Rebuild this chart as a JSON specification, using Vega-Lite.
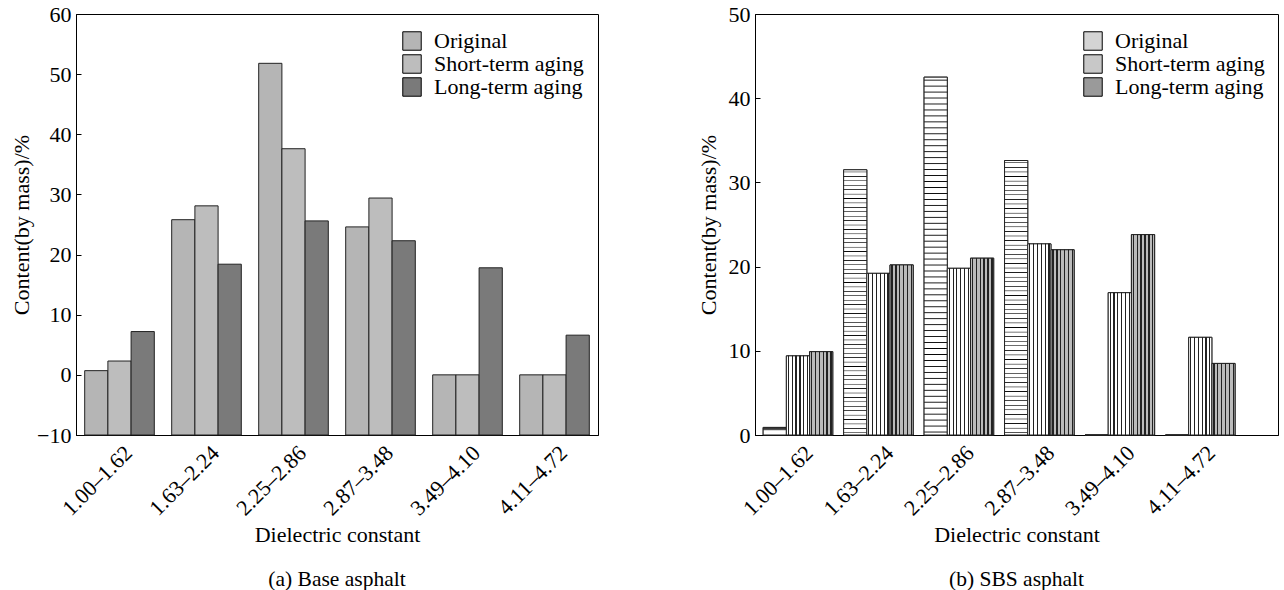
{
  "$schema": "https://vega.github.io/schema/vega-lite/v6.json",
  "padding": {"left": 10, "top": 2, "right": 0, "bottom": 0},
  "background": "white",
  "data": {"values": [
    {"chart": "a", "range": "1.00–1.62", "series": "Original", "value": 0.7},
    {"chart": "a", "range": "1.00–1.62", "series": "Short-term aging", "value": 2.3},
    {"chart": "a", "range": "1.00–1.62", "series": "Long-term aging", "value": 7.2},
    {"chart": "a", "range": "1.63–2.24", "series": "Original", "value": 25.8},
    {"chart": "a", "range": "1.63–2.24", "series": "Short-term aging", "value": 28.1},
    {"chart": "a", "range": "1.63–2.24", "series": "Long-term aging", "value": 18.4},
    {"chart": "a", "range": "2.25–2.86", "series": "Original", "value": 51.8},
    {"chart": "a", "range": "2.25–2.86", "series": "Short-term aging", "value": 37.6},
    {"chart": "a", "range": "2.25–2.86", "series": "Long-term aging", "value": 25.6},
    {"chart": "a", "range": "2.87–3.48", "series": "Original", "value": 24.6},
    {"chart": "a", "range": "2.87–3.48", "series": "Short-term aging", "value": 29.4},
    {"chart": "a", "range": "2.87–3.48", "series": "Long-term aging", "value": 22.3},
    {"chart": "a", "range": "3.49–4.10", "series": "Original", "value": 0},
    {"chart": "a", "range": "3.49–4.10", "series": "Short-term aging", "value": 0},
    {"chart": "a", "range": "3.49–4.10", "series": "Long-term aging", "value": 17.8},
    {"chart": "a", "range": "4.11–4.72", "series": "Original", "value": 0},
    {"chart": "a", "range": "4.11–4.72", "series": "Short-term aging", "value": 0},
    {"chart": "a", "range": "4.11–4.72", "series": "Long-term aging", "value": 6.6},
    {"chart": "b", "range": "1.00–1.62", "series": "Original", "value": 0.9},
    {"chart": "b", "range": "1.00–1.62", "series": "Short-term aging", "value": 9.4},
    {"chart": "b", "range": "1.00–1.62", "series": "Long-term aging", "value": 9.9},
    {"chart": "b", "range": "1.63–2.24", "series": "Original", "value": 31.5},
    {"chart": "b", "range": "1.63–2.24", "series": "Short-term aging", "value": 19.2},
    {"chart": "b", "range": "1.63–2.24", "series": "Long-term aging", "value": 20.2},
    {"chart": "b", "range": "2.25–2.86", "series": "Original", "value": 42.5},
    {"chart": "b", "range": "2.25–2.86", "series": "Short-term aging", "value": 19.8},
    {"chart": "b", "range": "2.25–2.86", "series": "Long-term aging", "value": 21.0},
    {"chart": "b", "range": "2.87–3.48", "series": "Original", "value": 32.6},
    {"chart": "b", "range": "2.87–3.48", "series": "Short-term aging", "value": 22.7},
    {"chart": "b", "range": "2.87–3.48", "series": "Long-term aging", "value": 22.0},
    {"chart": "b", "range": "3.49–4.10", "series": "Original", "value": 0},
    {"chart": "b", "range": "3.49–4.10", "series": "Short-term aging", "value": 16.9},
    {"chart": "b", "range": "3.49–4.10", "series": "Long-term aging", "value": 23.8},
    {"chart": "b", "range": "4.11–4.72", "series": "Original", "value": 0},
    {"chart": "b", "range": "4.11–4.72", "series": "Short-term aging", "value": 11.6},
    {"chart": "b", "range": "4.11–4.72", "series": "Long-term aging", "value": 8.5}
  ]},
  "spacing": 157,
  "bounds": "flush",
  "resolve": {"scale": {"fill": "independent", "x": "independent", "y": "independent"}},
  "config": {
    "font": "Liberation Serif",
    "view": {"stroke": "black", "strokeWidth": 1},
    "axis": {
      "labelFont": "Liberation Serif", "titleFont": "Liberation Serif",
      "labelFontSize": 22, "titleFontSize": 22,
      "labelColor": "black", "titleColor": "black", "titleFontWeight": "normal",
      "domainColor": "black", "tickColor": "black", "grid": false
    },
    "legend": {
      "labelFont": "Liberation Serif", "labelFontSize": 22, "labelColor": "black",
      "symbolType": "square", "symbolSize": 340, "symbolStrokeColor": "black", "symbolStrokeWidth": 1,
      "rowPadding": -2, "labelOffset": 11, "padding": 0
    },
    "title": {"font": "Liberation Serif", "fontSize": 21.5, "fontWeight": "normal", "color": "black"}
  },
  "hconcat": [
    {
      "width": 522, "height": 421,
      "transform": [{"filter": "datum.chart === 'a'"}],
      "title": {"text": "(a) Base asphalt", "orient": "bottom", "offset": 24},
      "mark": {"type": "bar", "stroke": "#222", "strokeWidth": 1},
      "encoding": {
        "x": {"field": "range", "type": "nominal", "sort": null,
          "scale": {"paddingInner": 0.2, "paddingOuter": 0.1},
          "axis": {"title": "Dielectric constant", "labelAngle": -45, "labelAlign": "right", "labelBaseline": "middle", "ticks": false, "labelPadding": 14, "labelOffset": 9, "titlePadding": 5}},
        "xOffset": {"field": "series", "type": "nominal", "sort": ["Original", "Short-term aging", "Long-term aging"], "scale": {"paddingInner": 0, "paddingOuter": 0}},
        "y": {"field": "value", "type": "quantitative",
          "scale": {"domain": [-10, 60], "nice": false, "zero": false},
          "axis": {"values": [-10, 0, 10, 20, 30, 40, 50, 60], "title": "Content(by mass)/%", "tickSize": -5, "labelPadding": 10, "titlePadding": 3}},
        "y2": {"datum": -10},
        "fill": {"field": "series", "type": "nominal", "sort": ["Original", "Short-term aging", "Long-term aging"],
          "scale": {"range": ["#b5b5b5", "#bdbdbd", "#7a7a7a"]},
          "legend": {"title": null, "orient": "none", "legendX": 325, "legendY": 16}}
      }
    },
    {
      "width": 523, "height": 421,
      "transform": [{"filter": "datum.chart === 'b'"}],
      "title": {"text": "(b) SBS asphalt", "orient": "bottom", "offset": 24},
      "resolve": {"legend": {"fill": "independent"}},
      "encoding": {
        "x": {"field": "range", "type": "nominal", "sort": null,
          "scale": {"paddingInner": 0.2, "paddingOuter": 0.35, "align": 0.145},
          "axis": {"title": "Dielectric constant", "labelAngle": -45, "labelAlign": "right", "labelBaseline": "middle", "ticks": false, "labelPadding": 14, "labelOffset": 14, "titlePadding": 5}},
        "xOffset": {"field": "series", "type": "nominal", "sort": ["Original", "Short-term aging", "Long-term aging"], "scale": {"paddingInner": 0, "paddingOuter": 0}},
        "y": {"field": "value", "type": "quantitative",
          "scale": {"domain": [0, 50], "nice": false},
          "axis": {"values": [0, 10, 20, 30, 40, 50], "title": "Content(by mass)/%", "tickSize": -5, "labelPadding": 10, "titlePadding": 8}}
      },
      "layer": [
        {
          "mark": {"type": "bar", "stroke": "#222", "strokeWidth": 1},
          "encoding": {
            "fill": {"field": "series", "type": "nominal", "sort": ["Original", "Short-term aging", "Long-term aging"],
              "scale": {"range": ["#d4d4d4", "#c8c8c8", "#9a9a9a"]},
              "legend": {"title": null, "orient": "none", "legendX": 327, "legendY": 16, "symbolStrokeColor": "black", "symbolStrokeWidth": 1,
                "encoding": {"symbols": {"stroke": {"value": "black"}, "fill": {
                  "condition": [
                    {"test": "datum.value === 'Original'", "value": {"gradient": "linear", "x1": 0, "y1": 0, "x2": 0, "y2": 1, "stops": [
                      {"offset": 0, "color": "white"}, {"offset": 0.15, "color": "white"},
                      {"offset": 0.15, "color": "#222"}, {"offset": 0.22, "color": "#222"},
                      {"offset": 0.22, "color": "white"}, {"offset": 0.4, "color": "white"},
                      {"offset": 0.4, "color": "#222"}, {"offset": 0.47, "color": "#222"},
                      {"offset": 0.47, "color": "white"}, {"offset": 0.65, "color": "white"},
                      {"offset": 0.65, "color": "#222"}, {"offset": 0.72, "color": "#222"},
                      {"offset": 0.72, "color": "white"}, {"offset": 0.88, "color": "white"},
                      {"offset": 0.88, "color": "#222"}, {"offset": 0.95, "color": "#222"},
                      {"offset": 0.95, "color": "white"}, {"offset": 1, "color": "white"}
                    ]}},
                    {"test": "datum.value === 'Short-term aging'", "value": {"gradient": "linear", "x1": 0, "y1": 0, "x2": 1, "y2": 0, "stops": [
                      {"offset": 0, "color": "white"}, {"offset": 0.1, "color": "white"},
                      {"offset": 0.1, "color": "#222"}, {"offset": 0.17, "color": "#222"},
                      {"offset": 0.17, "color": "white"}, {"offset": 0.3, "color": "white"},
                      {"offset": 0.3, "color": "#222"}, {"offset": 0.37, "color": "#222"},
                      {"offset": 0.37, "color": "white"}, {"offset": 0.5, "color": "white"},
                      {"offset": 0.5, "color": "#222"}, {"offset": 0.57, "color": "#222"},
                      {"offset": 0.57, "color": "white"}, {"offset": 0.7, "color": "white"},
                      {"offset": 0.7, "color": "#222"}, {"offset": 0.77, "color": "#222"},
                      {"offset": 0.77, "color": "white"}, {"offset": 0.9, "color": "white"},
                      {"offset": 0.9, "color": "#222"}, {"offset": 0.97, "color": "#222"},
                      {"offset": 0.97, "color": "white"}, {"offset": 1, "color": "white"}
                    ]}},
                    {"test": "datum.value === 'Long-term aging'", "value": {"gradient": "linear", "x1": 0, "y1": 0, "x2": 1, "y2": 0, "stops": [
                      {"offset": 0, "color": "#bbbbbb"}, {"offset": 0.1, "color": "#bbbbbb"},
                      {"offset": 0.1, "color": "#222"}, {"offset": 0.18, "color": "#222"},
                      {"offset": 0.18, "color": "#bbbbbb"}, {"offset": 0.3, "color": "#bbbbbb"},
                      {"offset": 0.3, "color": "#222"}, {"offset": 0.38, "color": "#222"},
                      {"offset": 0.38, "color": "#bbbbbb"}, {"offset": 0.5, "color": "#bbbbbb"},
                      {"offset": 0.5, "color": "#222"}, {"offset": 0.58, "color": "#222"},
                      {"offset": 0.58, "color": "#bbbbbb"}, {"offset": 0.7, "color": "#bbbbbb"},
                      {"offset": 0.7, "color": "#222"}, {"offset": 0.78, "color": "#222"},
                      {"offset": 0.78, "color": "#bbbbbb"}, {"offset": 0.9, "color": "#bbbbbb"},
                      {"offset": 0.9, "color": "#222"}, {"offset": 0.98, "color": "#222"},
                      {"offset": 0.98, "color": "#bbbbbb"}, {"offset": 1, "color": "#bbbbbb"}
                    ]}}
                  ],
                  "value": "#d4d4d4"}}}}}
          }
        },
        {
          "mark": {"type": "bar", "stroke": "#222", "strokeWidth": 1},
          "encoding": {
            "fill": {
              "condition": [
                {"test": "datum.series === 'Original'", "value": {"gradient": "linear", "x1": 0, "y1": 0, "x2": 0, "y2": 1, "stops": [
                  {"offset": 0, "color": "#fff"},
                  {"offset": 0.0058, "color": "#fff"}, {"offset": 0.0083, "color": "#000"}, {"offset": 0.0108, "color": "#fff"},
                  {"offset": 0.0225, "color": "#fff"}, {"offset": 0.0250, "color": "#000"}, {"offset": 0.0275, "color": "#fff"},
                  {"offset": 0.0392, "color": "#fff"}, {"offset": 0.0417, "color": "#000"}, {"offset": 0.0442, "color": "#fff"},
                  {"offset": 0.0558, "color": "#fff"}, {"offset": 0.0583, "color": "#000"}, {"offset": 0.0608, "color": "#fff"},
                  {"offset": 0.0725, "color": "#fff"}, {"offset": 0.0750, "color": "#000"}, {"offset": 0.0775, "color": "#fff"},
                  {"offset": 0.0892, "color": "#fff"}, {"offset": 0.0917, "color": "#000"}, {"offset": 0.0942, "color": "#fff"},
                  {"offset": 0.1058, "color": "#fff"}, {"offset": 0.1083, "color": "#000"}, {"offset": 0.1108, "color": "#fff"},
                  {"offset": 0.1225, "color": "#fff"}, {"offset": 0.1250, "color": "#000"}, {"offset": 0.1275, "color": "#fff"},
                  {"offset": 0.1392, "color": "#fff"}, {"offset": 0.1417, "color": "#000"}, {"offset": 0.1442, "color": "#fff"},
                  {"offset": 0.1558, "color": "#fff"}, {"offset": 0.1583, "color": "#000"}, {"offset": 0.1608, "color": "#fff"},
                  {"offset": 0.1725, "color": "#fff"}, {"offset": 0.1750, "color": "#000"}, {"offset": 0.1775, "color": "#fff"},
                  {"offset": 0.1892, "color": "#fff"}, {"offset": 0.1917, "color": "#000"}, {"offset": 0.1942, "color": "#fff"},
                  {"offset": 0.2058, "color": "#fff"}, {"offset": 0.2083, "color": "#000"}, {"offset": 0.2108, "color": "#fff"},
                  {"offset": 0.2225, "color": "#fff"}, {"offset": 0.2250, "color": "#000"}, {"offset": 0.2275, "color": "#fff"},
                  {"offset": 0.2392, "color": "#fff"}, {"offset": 0.2417, "color": "#000"}, {"offset": 0.2442, "color": "#fff"},
                  {"offset": 0.2558, "color": "#fff"}, {"offset": 0.2583, "color": "#000"}, {"offset": 0.2608, "color": "#fff"},
                  {"offset": 0.2725, "color": "#fff"}, {"offset": 0.2750, "color": "#000"}, {"offset": 0.2775, "color": "#fff"},
                  {"offset": 0.2892, "color": "#fff"}, {"offset": 0.2917, "color": "#000"}, {"offset": 0.2942, "color": "#fff"},
                  {"offset": 0.3058, "color": "#fff"}, {"offset": 0.3083, "color": "#000"}, {"offset": 0.3108, "color": "#fff"},
                  {"offset": 0.3225, "color": "#fff"}, {"offset": 0.3250, "color": "#000"}, {"offset": 0.3275, "color": "#fff"},
                  {"offset": 0.3392, "color": "#fff"}, {"offset": 0.3417, "color": "#000"}, {"offset": 0.3442, "color": "#fff"},
                  {"offset": 0.3558, "color": "#fff"}, {"offset": 0.3583, "color": "#000"}, {"offset": 0.3608, "color": "#fff"},
                  {"offset": 0.3725, "color": "#fff"}, {"offset": 0.3750, "color": "#000"}, {"offset": 0.3775, "color": "#fff"},
                  {"offset": 0.3892, "color": "#fff"}, {"offset": 0.3917, "color": "#000"}, {"offset": 0.3942, "color": "#fff"},
                  {"offset": 0.4058, "color": "#fff"}, {"offset": 0.4083, "color": "#000"}, {"offset": 0.4108, "color": "#fff"},
                  {"offset": 0.4225, "color": "#fff"}, {"offset": 0.4250, "color": "#000"}, {"offset": 0.4275, "color": "#fff"},
                  {"offset": 0.4392, "color": "#fff"}, {"offset": 0.4417, "color": "#000"}, {"offset": 0.4442, "color": "#fff"},
                  {"offset": 0.4558, "color": "#fff"}, {"offset": 0.4583, "color": "#000"}, {"offset": 0.4608, "color": "#fff"},
                  {"offset": 0.4725, "color": "#fff"}, {"offset": 0.4750, "color": "#000"}, {"offset": 0.4775, "color": "#fff"},
                  {"offset": 0.4892, "color": "#fff"}, {"offset": 0.4917, "color": "#000"}, {"offset": 0.4942, "color": "#fff"},
                  {"offset": 0.5058, "color": "#fff"}, {"offset": 0.5083, "color": "#000"}, {"offset": 0.5108, "color": "#fff"},
                  {"offset": 0.5225, "color": "#fff"}, {"offset": 0.5250, "color": "#000"}, {"offset": 0.5275, "color": "#fff"},
                  {"offset": 0.5392, "color": "#fff"}, {"offset": 0.5417, "color": "#000"}, {"offset": 0.5442, "color": "#fff"},
                  {"offset": 0.5558, "color": "#fff"}, {"offset": 0.5583, "color": "#000"}, {"offset": 0.5608, "color": "#fff"},
                  {"offset": 0.5725, "color": "#fff"}, {"offset": 0.5750, "color": "#000"}, {"offset": 0.5775, "color": "#fff"},
                  {"offset": 0.5892, "color": "#fff"}, {"offset": 0.5917, "color": "#000"}, {"offset": 0.5942, "color": "#fff"},
                  {"offset": 0.6058, "color": "#fff"}, {"offset": 0.6083, "color": "#000"}, {"offset": 0.6108, "color": "#fff"},
                  {"offset": 0.6225, "color": "#fff"}, {"offset": 0.6250, "color": "#000"}, {"offset": 0.6275, "color": "#fff"},
                  {"offset": 0.6392, "color": "#fff"}, {"offset": 0.6417, "color": "#000"}, {"offset": 0.6442, "color": "#fff"},
                  {"offset": 0.6558, "color": "#fff"}, {"offset": 0.6583, "color": "#000"}, {"offset": 0.6608, "color": "#fff"},
                  {"offset": 0.6725, "color": "#fff"}, {"offset": 0.6750, "color": "#000"}, {"offset": 0.6775, "color": "#fff"},
                  {"offset": 0.6892, "color": "#fff"}, {"offset": 0.6917, "color": "#000"}, {"offset": 0.6942, "color": "#fff"},
                  {"offset": 0.7058, "color": "#fff"}, {"offset": 0.7083, "color": "#000"}, {"offset": 0.7108, "color": "#fff"},
                  {"offset": 0.7225, "color": "#fff"}, {"offset": 0.7250, "color": "#000"}, {"offset": 0.7275, "color": "#fff"},
                  {"offset": 0.7392, "color": "#fff"}, {"offset": 0.7417, "color": "#000"}, {"offset": 0.7442, "color": "#fff"},
                  {"offset": 0.7558, "color": "#fff"}, {"offset": 0.7583, "color": "#000"}, {"offset": 0.7608, "color": "#fff"},
                  {"offset": 0.7725, "color": "#fff"}, {"offset": 0.7750, "color": "#000"}, {"offset": 0.7775, "color": "#fff"},
                  {"offset": 0.7892, "color": "#fff"}, {"offset": 0.7917, "color": "#000"}, {"offset": 0.7942, "color": "#fff"},
                  {"offset": 0.8058, "color": "#fff"}, {"offset": 0.8083, "color": "#000"}, {"offset": 0.8108, "color": "#fff"},
                  {"offset": 0.8225, "color": "#fff"}, {"offset": 0.8250, "color": "#000"}, {"offset": 0.8275, "color": "#fff"},
                  {"offset": 0.8392, "color": "#fff"}, {"offset": 0.8417, "color": "#000"}, {"offset": 0.8442, "color": "#fff"},
                  {"offset": 0.8558, "color": "#fff"}, {"offset": 0.8583, "color": "#000"}, {"offset": 0.8608, "color": "#fff"},
                  {"offset": 0.8725, "color": "#fff"}, {"offset": 0.8750, "color": "#000"}, {"offset": 0.8775, "color": "#fff"},
                  {"offset": 0.8892, "color": "#fff"}, {"offset": 0.8917, "color": "#000"}, {"offset": 0.8942, "color": "#fff"},
                  {"offset": 0.9058, "color": "#fff"}, {"offset": 0.9083, "color": "#000"}, {"offset": 0.9108, "color": "#fff"},
                  {"offset": 0.9225, "color": "#fff"}, {"offset": 0.9250, "color": "#000"}, {"offset": 0.9275, "color": "#fff"},
                  {"offset": 0.9392, "color": "#fff"}, {"offset": 0.9417, "color": "#000"}, {"offset": 0.9442, "color": "#fff"},
                  {"offset": 0.9558, "color": "#fff"}, {"offset": 0.9583, "color": "#000"}, {"offset": 0.9608, "color": "#fff"},
                  {"offset": 0.9725, "color": "#fff"}, {"offset": 0.9750, "color": "#000"}, {"offset": 0.9775, "color": "#fff"},
                  {"offset": 0.9892, "color": "#fff"}, {"offset": 0.9917, "color": "#000"}, {"offset": 0.9942, "color": "#fff"},
                  {"offset": 1, "color": "#fff"}
                ]}},
                {"test": "datum.series === 'Short-term aging'", "value": {"gradient": "linear", "x1": 0, "y1": 0, "x2": 1, "y2": 0, "stops": [
                  {"offset": 0, "color": "white"}, {"offset": 0.06, "color": "white"},
                  {"offset": 0.06, "color": "#222"}, {"offset": 0.11, "color": "#222"},
                  {"offset": 0.11, "color": "white"}, {"offset": 0.225, "color": "white"},
                  {"offset": 0.225, "color": "#222"}, {"offset": 0.275, "color": "#222"},
                  {"offset": 0.275, "color": "white"}, {"offset": 0.39, "color": "white"},
                  {"offset": 0.39, "color": "#222"}, {"offset": 0.44, "color": "#222"},
                  {"offset": 0.44, "color": "white"}, {"offset": 0.56, "color": "white"},
                  {"offset": 0.56, "color": "#222"}, {"offset": 0.61, "color": "#222"},
                  {"offset": 0.61, "color": "white"}, {"offset": 0.725, "color": "white"},
                  {"offset": 0.725, "color": "#222"}, {"offset": 0.775, "color": "#222"},
                  {"offset": 0.775, "color": "white"}, {"offset": 0.89, "color": "white"},
                  {"offset": 0.89, "color": "#222"}, {"offset": 0.94, "color": "#222"},
                  {"offset": 0.94, "color": "white"}, {"offset": 1, "color": "white"}
                ]}}
              ],
              "value": {"gradient": "linear", "x1": 0, "y1": 0, "x2": 1, "y2": 0, "stops": [
                {"offset": 0, "color": "#bbbbbb"}, {"offset": 0.06, "color": "#bbbbbb"},
                {"offset": 0.06, "color": "#222"}, {"offset": 0.12, "color": "#222"},
                {"offset": 0.12, "color": "#bbbbbb"}, {"offset": 0.225, "color": "#bbbbbb"},
                {"offset": 0.225, "color": "#222"}, {"offset": 0.285, "color": "#222"},
                {"offset": 0.285, "color": "#bbbbbb"}, {"offset": 0.39, "color": "#bbbbbb"},
                {"offset": 0.39, "color": "#222"}, {"offset": 0.45, "color": "#222"},
                {"offset": 0.45, "color": "#bbbbbb"}, {"offset": 0.56, "color": "#bbbbbb"},
                {"offset": 0.56, "color": "#222"}, {"offset": 0.62, "color": "#222"},
                {"offset": 0.62, "color": "#bbbbbb"}, {"offset": 0.725, "color": "#bbbbbb"},
                {"offset": 0.725, "color": "#222"}, {"offset": 0.785, "color": "#222"},
                {"offset": 0.785, "color": "#bbbbbb"}, {"offset": 0.89, "color": "#bbbbbb"},
                {"offset": 0.89, "color": "#222"}, {"offset": 0.95, "color": "#222"},
                {"offset": 0.95, "color": "#bbbbbb"}, {"offset": 1, "color": "#bbbbbb"}
              ]}
            }
          }
        }
      ]
    }
  ]
}
